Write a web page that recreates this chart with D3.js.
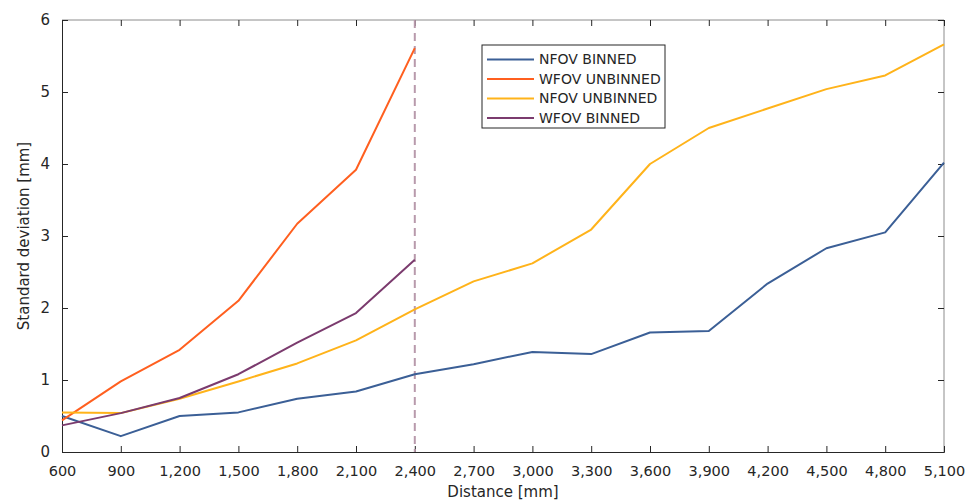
<!DOCTYPE html>
<html>
<head>
<meta charset="utf-8">
<script src="https://cdn.jsdelivr.net/npm/d3@7/dist/d3.min.js"></script>
<style>
  body { margin: 0; background: #fff; }
  svg text { font-family: "DejaVu Sans", sans-serif; fill: #262626; }
</style>
</head>
<body>
<div id="chart"></div>
<script>
// distance steps (mm)
var distances = [600, 900, 1200, 1500, 1800, 2100, 2400, 2700, 3000, 3300, 3600, 3900, 4200, 4500, 4800, 5100]

// standard deviation per series (mm)
var nfovBinned   = [0.50, 0.22, 0.50, 0.55, 0.74, 0.84, 1.08, 1.22, 1.39, 1.36, 1.66, 1.68, 2.34, 2.83, 3.05, 4.02]
var wfovUnbinned = [0.44, 0.98, 1.42, 2.10, 3.17, 3.92, 5.61]
var nfovUnbinned = [0.55, 0.54, 0.74, 0.98, 1.23, 1.55, 1.98, 2.37, 2.62, 3.09, 4.00, 4.50, 4.77, 5.04, 5.23, 5.66]
var wfovBinned   = [0.37, 0.54, 0.75, 1.08, 1.52, 1.93, 2.67]

var seriesNames  = ['NFOV BINNED', 'WFOV UNBINNED', 'NFOV UNBINNED', 'WFOV BINNED']
var seriesColors = ['#3b5f96', '#ff5f1f', '#ffb31a', '#7b3b6e']
var seriesValues = [nfovBinned, wfovUnbinned, nfovUnbinned, wfovBinned]

var yTicks = [0, 1, 2, 3, 4, 5, 6]
var markerX = 2400

var width = 974
var height = 503
var margin = {left: 62, right: 30, top: 20, bottom: 51}

var svg = d3.select("#chart")
    .append("svg")
    .attr("width", width)
    .attr("height", height)

var x = d3.scaleLinear()
    .domain([600, 5100])
    .range([margin.left, width - margin.right])

var y = d3.scaleLinear()
    .domain([0, 6])
    .range([height - margin.bottom, margin.top])

var fmt = d3.format(",")

// frame: top and right in grey
svg.append("path")
    .attr("d", "M" + x(600) + "," + y(6) + "H" + x(5100) + "V" + y(0))
    .attr("fill", "none")
    .attr("stroke", "#8c8c8c")
    .attr("stroke-width", 1)

// bottom axis (ticks inward)
var xAxis = svg.append("g")
    .attr("transform", "translate(0," + y(0) + ")")
    .call(d3.axisBottom(x).tickValues(distances).tickSize(-6).tickPadding(14).tickFormat(fmt))
xAxis.select(".domain").attr("stroke", "#262626")
xAxis.selectAll(".tick line").attr("stroke", "#262626")
xAxis.selectAll("text").style("font-size", "14.5px").attr("fill", "#262626")

// top ticks
svg.append("g")
    .attr("transform", "translate(0," + y(6) + ")")
    .call(d3.axisTop(x).tickValues(distances).tickSize(-6).tickFormat(""))
    .call(g => g.select(".domain").remove())
    .selectAll(".tick line").attr("stroke", "#262626")

// left axis (ticks inward)
var yAxis = svg.append("g")
    .attr("transform", "translate(" + x(600) + ",0)")
    .call(d3.axisLeft(y).tickValues(yTicks).tickSize(-6).tickPadding(12).tickFormat(d3.format("d")))
yAxis.select(".domain").attr("stroke", "#262626")
yAxis.selectAll(".tick line").attr("stroke", "#262626")
yAxis.selectAll("text").style("font-size", "15px").attr("fill", "#262626")

// right ticks
svg.append("g")
    .attr("transform", "translate(" + x(5100) + ",0)")
    .call(d3.axisRight(y).tickValues(yTicks).tickSize(-6).tickFormat(""))
    .call(g => g.select(".domain").remove())
    .selectAll(".tick line").attr("stroke", "#262626")

// axis titles
svg.append("text")
    .attr("x", (x(600) + x(5100)) / 2)
    .attr("y", 497)
    .attr("text-anchor", "middle")
    .style("font-size", "15px")
    .text("Distance [mm]")

svg.append("text")
    .attr("transform", "translate(29," + ((y(0) + y(6)) / 2) + ") rotate(-90)")
    .attr("text-anchor", "middle")
    .style("font-size", "15px")
    .text("Standard deviation [mm]")

// dashed marker at 2,400 mm
svg.append("line")
    .attr("x1", x(markerX)).attr("x2", x(markerX))
    .attr("y1", y(6)).attr("y2", y(0))
    .attr("stroke", "#b89aac")
    .attr("stroke-width", 2)
    .attr("stroke-dasharray", "8,5")

// series lines
var line = d3.line()
    .x(function(d, i) { return x(distances[i]) })
    .y(function(d) { return y(d) })

svg.selectAll(".series")
    .data(seriesValues)
    .enter()
    .append("path")
    .attr("class", "series")
    .attr("d", line)
    .attr("fill", "none")
    .attr("stroke", function(d, i) { return seriesColors[i] })
    .attr("stroke-width", 2)
    .attr("stroke-linejoin", "round")

// legend
var legend = svg.append("g").attr("transform", "translate(482,45)")
legend.append("rect")
    .attr("width", 183)
    .attr("height", 83)
    .attr("fill", "#fff")
    .attr("stroke", "#262626")
    .attr("stroke-width", 1)

var items = legend.selectAll(".item")
    .data(seriesNames)
    .enter()
    .append("g")
    .attr("transform", function(d, i) { return "translate(0," + (14.5 + i * 19.5) + ")" })

items.append("line")
    .attr("x1", 5).attr("x2", 52)
    .attr("stroke", function(d, i) { return seriesColors[i] })
    .attr("stroke-width", 2)

items.append("text")
    .attr("x", 57)
    .attr("dy", "0.35em")
    .style("font-size", "14px")
    .text(function(d) { return d })
</script>
</body>
</html>
